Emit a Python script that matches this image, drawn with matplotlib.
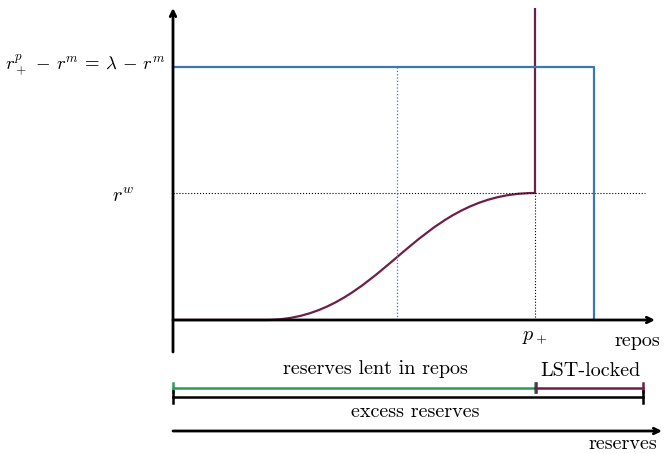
import matplotlib.pyplot as plt
from matplotlib.path import Path
from matplotlib.patches import PathPatch

plt.rcParams['mathtext.fontset'] = 'cm'

# diagram values (x to the right of the vertical axis, y above the repos axis)
p_plus = 362
blue_end = 421
lam_level = 253
r_w = 127
mid_x = 224
x_axis_end = 482
y_axis_top = 312

# s-curve: start, two control points, end
curve_start = (92, 0)
curve_ctrl1 = (210, 0)
curve_ctrl2 = (238, r_w)
curve_end = (p_plus, r_w)

bar_lent = [0, p_plus]
bar_lst = [p_plus, 470]
bar_excess = [0, 470]

blue = '#3a78b5'
purple = '#6e1f47'
green = '#2e9a5a'

fig = plt.figure(figsize=(6.64, 4.54), dpi=100)
ax = fig.add_axes([0, 0, 1, 1])
ax.set_xlim(-173, 491)
ax.set_ylim(-134, 320)
ax.axis('off')

serif = 'cmr10'
fs = 14.5

# axes arrows
ax.annotate('', xy=(x_axis_end, 0), xytext=(0, 0),
            arrowprops=dict(arrowstyle='->', lw=2, color='black', shrinkA=0, shrinkB=0))
ax.annotate('', xy=(0, y_axis_top), xytext=(0, -32),
            arrowprops=dict(arrowstyle='->', lw=2, color='black', shrinkA=0, shrinkB=0))

# dotted guides
ax.plot([0, 472], [r_w, r_w], color='black', ls=':', lw=0.8)
ax.plot([p_plus, p_plus], [0, r_w], color='black', ls=':', lw=0.8)
ax.plot([mid_x, mid_x], [0, lam_level], color=blue, ls=':', lw=0.9)

# blue step
ax.plot([0, blue_end, blue_end], [lam_level, lam_level, 0], color=blue, lw=1.6)

# purple curve
verts = [(0, 0), curve_start, curve_ctrl1, curve_ctrl2, curve_end, (p_plus, y_axis_top)]
codes = [Path.MOVETO, Path.LINETO, Path.CURVE4, Path.CURVE4, Path.CURVE4, Path.LINETO]
ax.add_patch(PathPatch(Path(verts, codes), fill=False, edgecolor=purple, lw=1.6))

# labels
ax.text(-8, lam_level + 2, r'$r^p_+ \,-\, r^m \,=\, \lambda \,-\, r^m$', ha='right', va='center',
        fontsize=13.5)
ax.text(-50, r_w - 3, r'$r^w$', ha='center', va='center', fontsize=fs)
ax.text(p_plus, -16, r'$p_+$', ha='center', va='center', fontsize=fs)
ax.text(487, -21, 'repos', ha='right', va='center', fontsize=fs, family=serif)

# bottom bars
yb1 = -68
yb2 = -77
ax.plot(bar_lent, [yb1, yb1], color=green, lw=1.8)
ax.plot([bar_lent[0]] * 2, [yb1 - 4, yb1 + 5], color=green, lw=1.8)
ax.plot([bar_lent[1]] * 2, [yb1 - 4, yb1 + 5], color=green, lw=1.8)
ax.plot(bar_lst, [yb1, yb1], color=purple, lw=1.8)
ax.plot([bar_lst[0] + 1] * 2, [yb1 - 4, yb1 + 5], color=purple, lw=1.8)
ax.plot([bar_lst[1]] * 2, [yb1 - 4, yb1 + 5], color=purple, lw=1.8)
ax.plot(bar_excess, [yb2, yb2], color='black', lw=1.8)
ax.plot([bar_excess[0]] * 2, [yb2 - 6, yb2 + 6], color='black', lw=1.8)
ax.plot([bar_excess[1]] * 2, [yb2 - 6, yb2 + 6], color='black', lw=1.8)

ax.text(sum(bar_lent) / 2 + 21, -49, 'reserves lent in repos', ha='center', va='center',
        fontsize=fs, family=serif)
ax.text(sum(bar_lst) / 2 + 1, -51, 'LST-locked', ha='center', va='center', fontsize=fs, family=serif)
ax.text(sum(bar_excess) / 2 + 7, -92, 'excess reserves', ha='center', va='center',
        fontsize=fs, family=serif)

ax.annotate('', xy=(489, -111), xytext=(0, -111),
            arrowprops=dict(arrowstyle='->', lw=2, color='black', shrinkA=0, shrinkB=0))
ax.text(484, -124, 'reserves', ha='right', va='center', fontsize=fs, family=serif)

fig.savefig('out.png', dpi=100)
